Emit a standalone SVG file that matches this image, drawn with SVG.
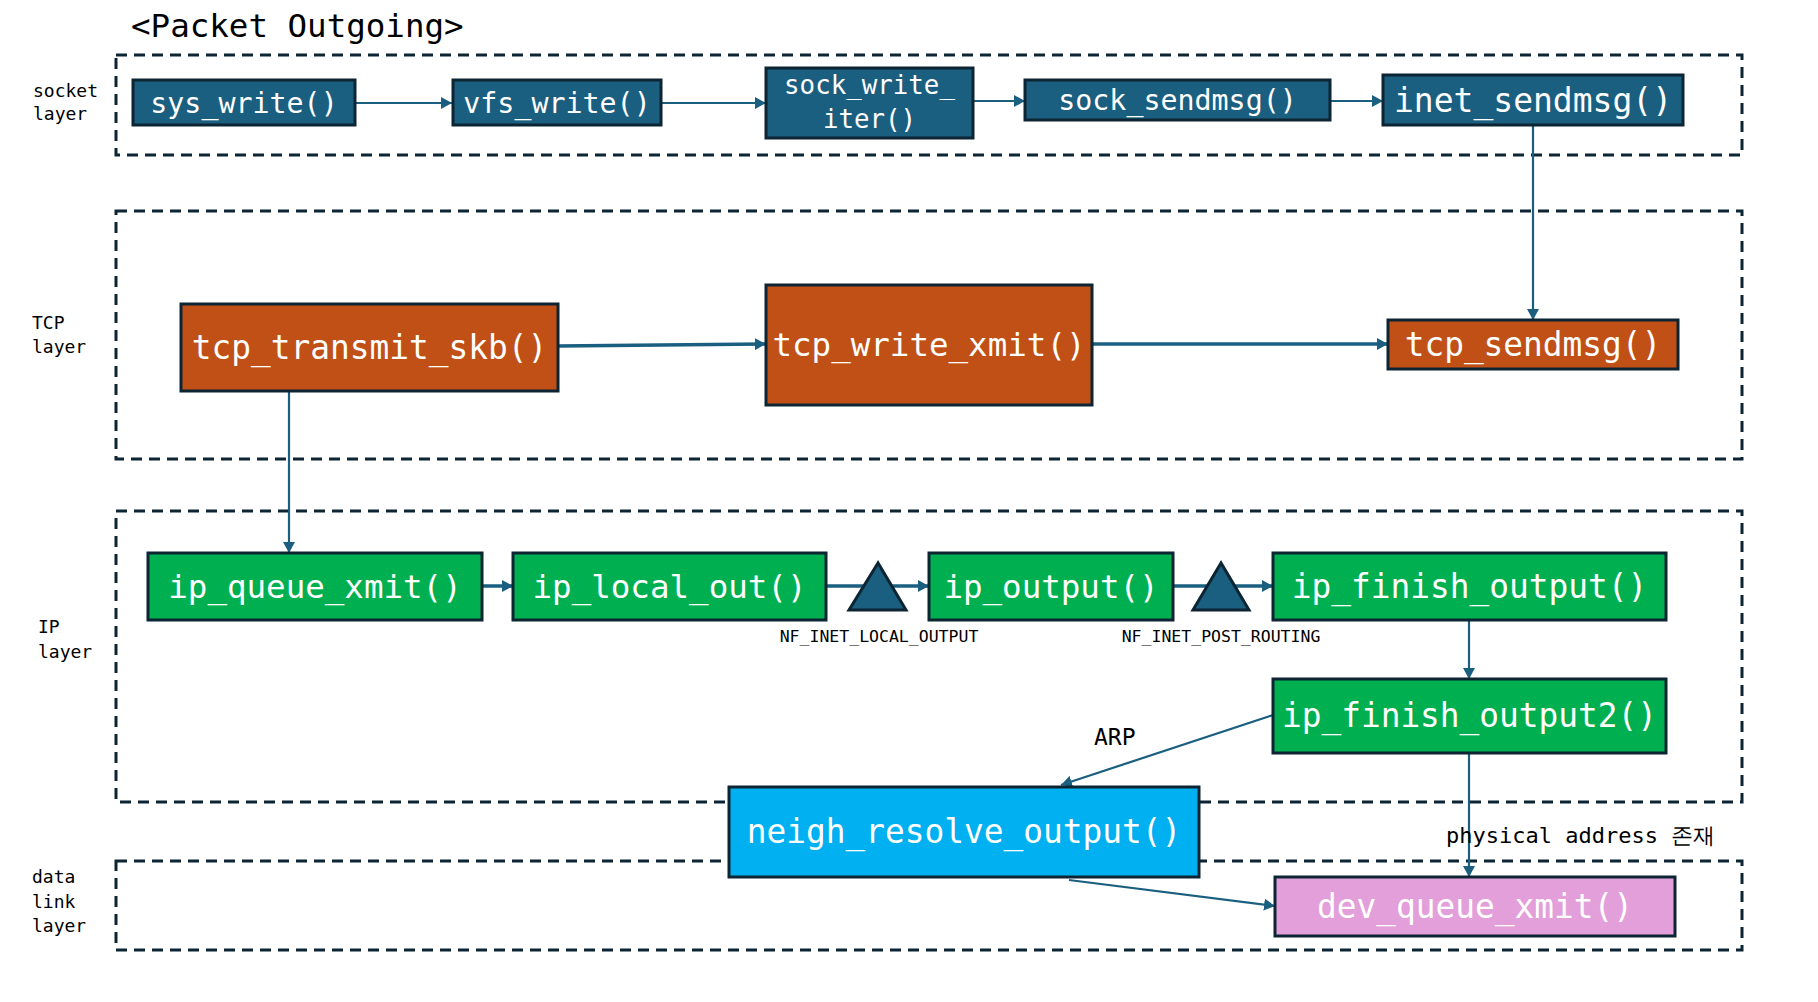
<svg xmlns="http://www.w3.org/2000/svg" width="1818" height="1002" viewBox="0 0 1818 1002">
<style>
.layer{fill:none;stroke:#0d2533;stroke-width:3;stroke-dasharray:11 7}
.node{stroke:#0d2533;stroke-width:3}
.sock{fill:#1a5e80}
.tcp{fill:#c05016}
.ip{fill:#00b050}
.neigh{fill:#00b0f0}
.dev{fill:#e29fda}
.nt{font-family:"DejaVu Sans Mono","Liberation Mono",monospace;fill:#ffffff;text-anchor:middle}
.lbl{font-family:"DejaVu Sans Mono","Liberation Mono",monospace;fill:#000000}
.conn{stroke:#1a5e80;fill:none;stroke-width:2.2}
.thick{stroke-width:3.5}
.tri{fill:#1a5e80;stroke:#0d2533;stroke-width:3;stroke-linejoin:miter}
</style>
<defs>
<marker id="arr" markerUnits="userSpaceOnUse" markerWidth="12" markerHeight="12" refX="11" refY="6" orient="auto">
<path d="M0,0 L11,6 L0,12 z" fill="#1a5e80"/>
</marker>
</defs>
<rect width="1818" height="1002" fill="#ffffff"/>

<text class="lbl" x="131" y="37" font-size="32.5">&lt;Packet Outgoing&gt;</text>

<g id="layers">
<rect class="layer" x="116" y="55" width="1626" height="100"/>
<rect class="layer" x="116" y="211" width="1626" height="248"/>
<rect class="layer" x="116" y="511" width="1626" height="291"/>
<rect class="layer" x="116" y="861" width="1626" height="89"/>
</g>

<g id="layer-labels" class="lbl" font-size="18">
<text x="33" y="97">socket</text>
<text x="33" y="120">layer</text>
<text x="32" y="329">TCP</text>
<text x="32" y="353">layer</text>
<text x="38" y="633">IP</text>
<text x="38" y="658">layer</text>
<text x="32" y="883">data</text>
<text x="32" y="908">link</text>
<text x="32" y="932">layer</text>
</g>

<g id="connectors">
<line class="conn" x1="355" y1="103" x2="452" y2="103" marker-end="url(#arr)"/>
<line class="conn" x1="661" y1="103" x2="766" y2="103" marker-end="url(#arr)"/>
<line class="conn" x1="973" y1="101" x2="1025" y2="101" marker-end="url(#arr)"/>
<line class="conn" x1="1330" y1="101" x2="1383" y2="101" marker-end="url(#arr)"/>
<line class="conn" x1="1533" y1="125" x2="1533" y2="320" marker-end="url(#arr)"/>
<line class="conn thick" x1="558" y1="346" x2="766" y2="344" marker-end="url(#arr)"/>
<line class="conn thick" x1="1093" y1="344" x2="1388" y2="344" marker-end="url(#arr)"/>
<line class="conn" x1="289" y1="391" x2="289" y2="553" marker-end="url(#arr)"/>
<line class="conn thick" x1="482" y1="586" x2="513" y2="586" marker-end="url(#arr)"/>
<line class="conn thick" x1="826" y1="586" x2="929" y2="586" marker-end="url(#arr)"/>
<line class="conn thick" x1="1173" y1="586" x2="1273" y2="586" marker-end="url(#arr)"/>
<line class="conn" x1="1469" y1="620" x2="1469" y2="679" marker-end="url(#arr)"/>
<line class="conn" stroke-width="2.6" x1="1273" y1="715" x2="1061" y2="785" marker-end="url(#arr)"/>
<line class="conn" x1="1469" y1="753" x2="1469" y2="877" marker-end="url(#arr)"/>
<line class="conn" stroke-width="3" x1="1069" y1="880" x2="1275" y2="906" marker-end="url(#arr)"/>
</g>

<g id="hooks">
<polygon class="tri" points="878,563 849,610 906,610"/>
<polygon class="tri" points="1221,563 1193,610 1249,610"/>
<text class="lbl" x="879" y="642" font-size="16.5" text-anchor="middle">NF_INET_LOCAL_OUTPUT</text>
<text class="lbl" x="1221" y="642" font-size="16.5" text-anchor="middle">NF_INET_POST_ROUTING</text>
</g>

<g id="sys_write">
<rect class="node sock" x="133" y="80" width="222" height="45"/>
<text class="nt" x="244" y="113" font-size="28.3">sys_write()</text>
</g>
<g id="vfs_write">
<rect class="node sock" x="453" y="80" width="208" height="45"/>
<text class="nt" x="557" y="113" font-size="28.3">vfs_write()</text>
</g>
<g id="sock_write_iter">
<rect class="node sock" x="766" y="68" width="207" height="70"/>
<text class="nt" x="869.5" y="94" font-size="25.8">sock_write_</text>
<text class="nt" x="869.5" y="128" font-size="25.8">iter()</text>
</g>
<g id="sock_sendmsg">
<rect class="node sock" x="1025" y="80" width="305" height="40"/>
<text class="nt" x="1177.5" y="110" font-size="28.3">sock_sendmsg()</text>
</g>
<g id="inet_sendmsg">
<rect class="node sock" x="1383" y="75" width="300" height="50"/>
<text class="nt" x="1533" y="111.5" font-size="33">inet_sendmsg()</text>
</g>

<g id="tcp_transmit_skb">
<rect class="node tcp" x="181" y="304" width="377" height="87"/>
<text class="nt" x="369.5" y="359" font-size="32.8">tcp_transmit_skb()</text>
</g>
<g id="tcp_write_xmit">
<rect class="node tcp" x="766" y="285" width="326" height="120"/>
<text class="nt" x="929" y="356" font-size="32.5">tcp_write_xmit()</text>
</g>
<g id="tcp_sendmsg">
<rect class="node tcp" x="1388" y="320" width="290" height="49"/>
<text class="nt" x="1533" y="356" font-size="32.8">tcp_sendmsg()</text>
</g>

<g id="ip_queue_xmit">
<rect class="node ip" x="148" y="553" width="334" height="67"/>
<text class="nt" x="315" y="598" font-size="32.5">ip_queue_xmit()</text>
</g>
<g id="ip_local_out">
<rect class="node ip" x="513" y="553" width="313" height="67"/>
<text class="nt" x="669.5" y="598" font-size="32.5">ip_local_out()</text>
</g>
<g id="ip_output">
<rect class="node ip" x="929" y="553" width="244" height="67"/>
<text class="nt" x="1051" y="598" font-size="32.5">ip_output()</text>
</g>
<g id="ip_finish_output">
<rect class="node ip" x="1273" y="553" width="393" height="67"/>
<text class="nt" x="1469.5" y="598" font-size="32.8">ip_finish_output()</text>
</g>
<g id="ip_finish_output2">
<rect class="node ip" x="1273" y="679" width="393" height="74"/>
<text class="nt" x="1469.5" y="727" font-size="32.8">ip_finish_output2()</text>
</g>

<g id="neigh_resolve_output">
<rect class="node neigh" x="729" y="787" width="470" height="90"/>
<text class="nt" x="964" y="843" font-size="32.8">neigh_resolve_output()</text>
</g>
<g id="dev_queue_xmit">
<rect class="node dev" x="1275" y="877" width="400" height="59"/>
<text class="nt" x="1475" y="918" font-size="32.8">dev_queue_xmit()</text>
</g>

<g id="edge-labels">
<text class="lbl" x="1094" y="745" font-size="23">ARP</text>
<text class="lbl" x="1446" y="843" font-size="22" font-family="'DejaVu Sans Mono','Noto Sans CJK KR',monospace">physical address 존재</text>
</g>
</svg>
